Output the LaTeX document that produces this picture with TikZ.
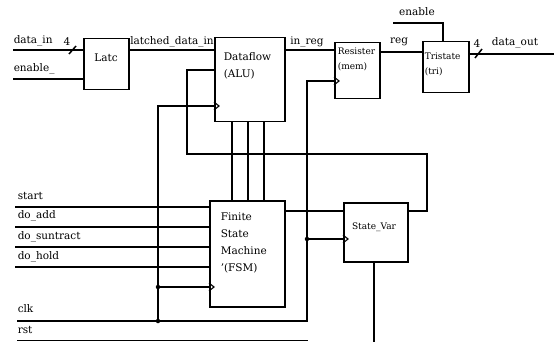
\documentclass[tikz,border=0pt]{standalone}
\usepackage{fontspec}
\setmainfont{DejaVu Serif}
\begin{document}
\begin{tikzpicture}[x=1pt,y=-1pt, line width=1.5pt, font=\fontsize{10.5}{17}\selectfont,
 box/.style={draw, line width=1.5pt, anchor=north west, inner sep=0pt},
 txt/.style={inner sep=0pt, anchor=center},
 ltxt/.style={inner sep=0pt, anchor=west, align=left},
 dot/.style={circle, fill, inner sep=0pt, minimum size=4.5pt},
 clkmark/.style={line width=1.1pt}]
\useasboundingbox (0,0) rectangle (554,342);

% boxes
\node[box, minimum width=45pt, minimum height=51pt] (latc) at (83,38) {};
\node[box, minimum width=70pt, minimum height=84pt] (df) at (214,37) {};
\node[box, minimum width=45pt, minimum height=56pt] (res) at (334,42) {};
\node[box, minimum width=46pt, minimum height=51pt] (tri) at (422,41) {};
\node[box, minimum width=75pt, minimum height=106pt] (fsm) at (209,200) {};
\node[box, minimum width=64pt, minimum height=59pt] (sv) at (343,202) {};

% box texts
\node[txt] (latct) at (106,58) {Latc};
\node[ltxt] (dft) at (223,66) {Dataflow\\(ALU)};
\node[ltxt, font=\fontsize{9}{15}\selectfont] (rest) at (337,59) {Resister\\(mem)};
\node[ltxt, font=\fontsize{9}{15}\selectfont] (trit) at (424,64) {Tristate\\(tri)};
\node[ltxt] (fsmt) at (220,243) {Finite\\State\\Machine\\'(FSM)};
\node[txt, font=\fontsize{9}{15}\selectfont] (svt) at (374,227) {State\_Var};

% signal labels
\node[ltxt] (l1) at (13,41) {data\_in};
\node[txt] (l2) at (67,42) {4};
\node[ltxt] (l3) at (13,69) {enable\_};
\node[txt] (l4) at (172,42) {latched\_data\_in};
\node[txt] (l5) at (307,42) {in\_reg};
\node[txt] (l6) at (399,42) {reg};
\node[txt] (l7) at (417,12) {enable};
\node[txt] (l8) at (477,44) {4};
\node[txt] (l9) at (515,43) {data\_out};
\node[ltxt] (l10) at (17,196) {start};
\node[ltxt] (l11) at (17,216) {do\_add};
\node[ltxt] (l12) at (17,237) {do\_suntract};
\node[ltxt] (l13) at (17,257) {do\_hold};
\node[ltxt] (l14) at (17,309) {clk};
\node[ltxt] (l15) at (17,330) {rst};

% top path
\coordinate (din) at (13,50);
\coordinate (enin) at (13,79);
\draw (din) -- (din -| latc.west);
\draw (enin) -- (enin -| latc.west);
\draw (din -| latc.east) -- (din -| df.west);
\coordinate (ir) at (284,50);
\draw (ir -| df.east) -- (ir -| res.west);
\coordinate (rg) at (379,52);
\draw (rg -| res.east) -- (rg -| tri.west);
\coordinate (dout) at (554,54);
\draw (dout -| tri.east) -- (dout);
\coordinate (ent) at (393,23);
\coordinate (ent2) at (443,23);
\draw (ent) -- (ent2) -- (ent2 |- tri.north);
\draw (69,54) -- (76,46);
\draw (475,58) -- (482,49);

% dataflow <-> fsm
\foreach \x in {232,248,264} \draw (df.south -| \x,0) -- (fsm.north -| \x,0);

% fsm -> state var, feedback
\coordinate (q) at (284,211);
\draw (q -| fsm.east) -- (q -| sv.west);
\coordinate (fb1) at (427,211);
\coordinate (fb2) at (427,154);
\coordinate (fb3) at (187,154);
\coordinate (fb4) at (187,70);
\draw (fb1 -| sv.east) -- (fb1) -- (fb2) -- (fb3) -- (fb4) -- (fb4 -| df.west);

% inputs
\foreach \y/\n in {207/1,227/2,247/3,267/4}{
  \coordinate (in\n) at (15,\y);
  \draw (in\n) -- (in\n -| fsm.west);
}

% clock
\coordinate (clk) at (17,321);
\coordinate (c1) at (158,321);
\coordinate (c2) at (307,321);
\coordinate (c3) at (158,287);
\coordinate (c4) at (307,239);
\draw (clk) -- (c2) -- (c2 |- 0,81) -- (res.west |- 0,81);
\draw (c1) -- (c1 |- 0,106) -- (df.west |- 0,106);
\draw (c3) -- (c3 -| fsm.west);
\draw (c4) -- (c4 -| sv.west);
\node[dot] (d1) at (c1) {};
\node[dot] (d3) at (c3) {};
\node[dot] (d4) at (c4) {};

% clock marks
\draw[clkmark] (df.west |- 0,106) ++(0,-4) -- ++(5,4) -- ++(-5,4);
\draw[clkmark] (res.west |- 0,81) ++(0,-4) -- ++(5,4) -- ++(-5,4);
\draw[clkmark] (fsm.west |- 0,287) ++(0,-4) -- ++(5,4) -- ++(-5,4);
\draw[clkmark] (sv.west |- 0,239) ++(0,-4) -- ++(5,4) -- ++(-5,4);

% rst and state var output
\coordinate (rst) at (17,340.5);
\coordinate (rst2) at (308,340.5);
\draw (rst) -- (rst2);
\coordinate (svo) at (374,342);
\draw (sv.south -| svo) -- (svo);
\end{tikzpicture}
\end{document}
